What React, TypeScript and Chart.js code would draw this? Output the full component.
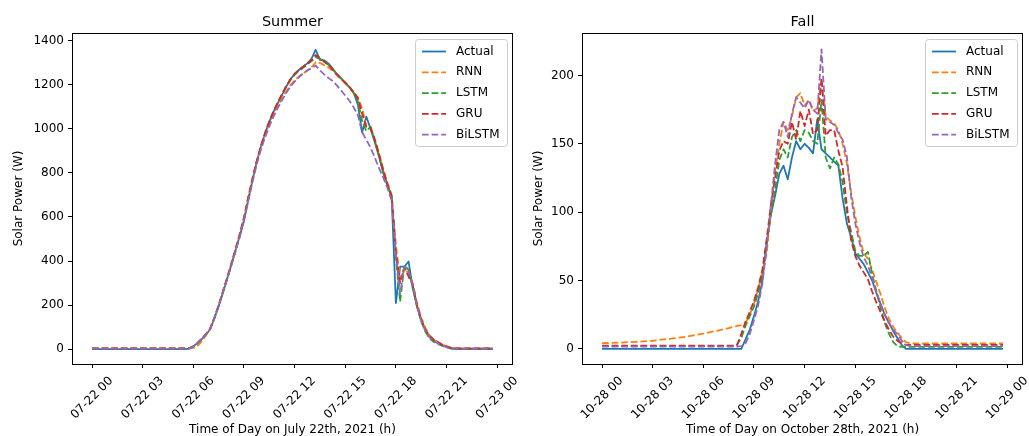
import React, { useEffect, useRef } from "react";
import { Chart, registerables } from "chart.js";

Chart.register(...registerables);

const FONT = "'DejaVu Sans', 'Liberation Sans', sans-serif";

// ---- series metadata ----
const seriesNames = ["Actual", "RNN", "LSTM", "GRU", "BiLSTM"];
const seriesColors = ["#1f77b4", "#ff7f0e", "#2ca02c", "#d62728", "#9467bd"];

// ---- axis ticks ----
const tickHours = [0, 3, 6, 9, 12, 15, 18, 21, 24];
const summerTickLabels = [
  "07-22 00", "07-22 03", "07-22 06", "07-22 09", "07-22 12",
  "07-22 15", "07-22 18", "07-22 21", "07-23 00",
];
const fallTickLabels = [
  "10-28 00", "10-28 03", "10-28 06", "10-28 09", "10-28 12",
  "10-28 15", "10-28 18", "10-28 21", "10-29 00",
];
const summerYTicks = [0, 200, 400, 600, 800, 1000, 1200, 1400];
const fallYTicks = [0, 50, 100, 150, 200];

// ---- Summer, July 22nd 2021 (hour of day, watts) ----
const summerHours = [
  0, 1, 2, 3, 4, 5,
  5.5, 5.75, 6, 6.25, 6.5, 6.75, 7, 7.25, 7.5, 7.75,
  8, 8.25, 8.5, 8.75, 9, 9.25, 9.5, 9.75,
  10, 10.25, 10.5, 10.75, 11, 11.25, 11.5, 11.75,
  12, 12.25, 12.5, 12.75, 13, 13.25, 13.5, 13.75,
  14, 14.25, 14.5, 14.75, 15, 15.25, 15.5, 15.75,
  16, 16.25, 16.5, 16.75, 17, 17.25, 17.5, 17.75,
  18, 18.25, 18.5, 18.75, 19, 19.25, 19.5, 19.75,
  20, 20.25, 20.5, 20.75, 21, 21.25, 21.5, 21.75,
  22, 23, 23.75,
];
const summerActual = [
  0, 0, 0, 0, 0, 0,
  0, 2, 12, 28, 45, 65, 90, 140, 195, 255,
  318, 382, 448, 515, 582, 675, 765, 848,
  918, 978, 1032, 1078, 1116, 1154, 1192, 1225,
  1250, 1268, 1283, 1298, 1318, 1360, 1314, 1312,
  1298, 1275, 1250, 1230, 1210, 1190, 1165, 1110,
  985, 1056, 1000, 940, 875, 800, 742, 690,
  209, 374, 374, 398, 275, 195, 132, 86,
  56, 40, 29, 18, 10, 3, 0, 0,
  0, 0, 0,
];
const summerRNN = [
  3, 3, 3, 3, 3, 3,
  3, 3, 5, 14, 35, 62, 92, 142, 200, 262,
  325, 390, 456, 525, 600, 690, 775, 852,
  918, 975, 1025, 1068, 1105, 1138, 1170, 1198,
  1220, 1238, 1252, 1265, 1280, 1303, 1300, 1290,
  1280, 1264, 1245, 1228, 1210, 1190, 1168, 1142,
  1095, 1012, 1010, 952, 888, 818, 755, 700,
  470, 320, 372, 340, 300, 210, 142, 95,
  62, 44, 32, 21, 13, 7, 4, 3,
  3, 3, 3,
];
const summerLSTM = [
  2, 2, 2, 2, 2, 2,
  2, 3, 10, 26, 46, 68, 92, 140, 196, 256,
  318, 382, 447, 515, 590, 680, 766, 848,
  918, 980, 1032, 1078, 1118, 1155, 1190, 1222,
  1246, 1264, 1278, 1292, 1308, 1325, 1320, 1305,
  1292, 1272, 1250, 1230, 1208, 1188, 1163, 1125,
  1035, 990, 1010, 945, 878, 805, 745, 692,
  420, 215, 380, 360, 285, 192, 125, 78,
  48, 32, 22, 14, 7, 3, 2, 2,
  2, 2, 2,
];
const summerGRU = [
  3, 3, 3, 3, 3, 3,
  3, 4, 12, 28, 47, 68, 93, 143, 198, 260,
  322, 386, 452, 520, 596, 686, 772, 852,
  922, 982, 1034, 1080, 1120, 1158, 1194, 1226,
  1250, 1268, 1283, 1297, 1312, 1336, 1322, 1306,
  1292, 1270, 1248, 1228, 1210, 1190, 1166, 1140,
  1070, 1010, 1005, 952, 885, 812, 750, 695,
  440, 300, 372, 330, 290, 200, 135, 88,
  58, 42, 30, 20, 12, 6, 3, 3,
  3, 3, 3,
];
const summerBiLSTM = [
  2, 2, 2, 2, 2, 2,
  2, 3, 11, 27, 46, 67, 92, 142, 198, 258,
  318, 380, 443, 510, 588, 672, 758, 838,
  905, 962, 1012, 1056, 1095, 1130, 1163, 1192,
  1215, 1235, 1252, 1266, 1276, 1288, 1266, 1248,
  1232, 1218, 1198, 1175, 1152, 1128, 1098, 1062,
  985, 950, 915, 870, 822, 780, 732, 675,
  430, 250, 375, 355, 290, 195, 128, 82,
  52, 36, 25, 16, 9, 4, 2, 2,
  2, 2, 2,
];

// ---- Fall, October 28th 2021 (hour of day, watts) ----
const fallHours = [
  0, 1, 2, 3, 4, 5, 6, 7,
  7.5, 7.75, 8, 8.25, 8.5, 8.75, 9, 9.25, 9.5, 9.75,
  10, 10.25, 10.5, 10.75, 11, 11.25, 11.5, 11.75,
  12, 12.25, 12.5, 12.75, 13, 13.25, 13.5, 13.75,
  14, 14.25, 14.5, 14.75, 15, 15.25, 15.5, 15.75,
  16, 16.25, 16.5, 16.75, 17, 17.25, 17.5, 17.75,
  18, 18.25, 18.5, 19, 20, 21, 22, 23, 23.75,
];
const fallActual = [
  0, 0, 0, 0, 0, 0, 0, 0,
  0, 0, 0, 0, 7, 14, 24, 35, 50, 78,
  98, 112, 128, 134, 124, 140, 152, 146,
  150, 147, 143, 168, 146, 143, 140, 137,
  134, 110, 92, 82, 70, 66, 62, 56,
  50, 41, 33, 25, 19, 13, 8, 3,
  0, 0, 0, 0, 0, 0, 0, 0, 0,
];
const fallRNN = [
  4.2, 4.6, 5.2, 6.0, 7.4, 9.0, 11.2, 13.8,
  15.2, 16.0, 16.8, 17.5, 19, 25, 33, 44, 56, 70,
  100, 130, 150, 166, 160, 170, 184, 187,
  178, 182, 174, 176, 195, 170, 167, 165,
  160, 150, 136, 115, 97, 82, 70, 66,
  58, 49, 40, 30, 22, 16, 12, 8,
  5, 4.2, 4.1, 4, 4, 4, 4, 4, 4,
];
const fallLSTM = [
  2, 2, 2, 2, 2, 2, 2, 2,
  2, 2, 3, 8, 17, 24, 31, 41, 54, 76,
  98, 116, 138, 146, 140, 155, 160, 152,
  160, 158, 152, 150, 182, 140, 132, 140,
  135, 122, 100, 86, 72, 68, 68, 71,
  55, 42, 30, 19, 11, 5, 2, 1.5,
  1.5, 1.5, 1.5, 1.5, 1.5, 1.5, 1.5, 1.5, 1.5,
];
const fallGRU = [
  2.4, 2.4, 2.4, 2.4, 2.4, 2.4, 2.4, 2.4,
  2.4, 2.5, 3, 11, 20, 27, 35, 45, 58, 80,
  105, 125, 145, 152, 150, 166, 153, 174,
  163, 175, 157, 160, 198, 156, 160, 160,
  145, 133, 105, 80, 68, 61, 56, 51,
  42, 34, 27, 20, 14, 9, 6, 4,
  3, 3, 3, 3, 3, 3, 3, 3, 3,
];
const fallBiLSTM = [
  1.7, 1.7, 1.7, 1.7, 1.7, 1.7, 1.7, 1.7,
  1.7, 1.7, 1.8, 2, 4, 11, 21, 32, 48, 74,
  105, 135, 160, 166, 155, 172, 184, 180,
  176, 182, 175, 172, 219, 168, 166, 164,
  158, 153, 141, 112, 92, 78, 67, 61,
  52, 42, 33, 25, 19, 14, 11, 6,
  3, 2, 2, 2, 2, 2, 2, 2, 2,
];

type PanelProps = {
  title: string;
  xTitle: string;
  hours: number[];
  series: number[][];
  tickLabels: string[];
  yTicks: number[];
  yMin: number;
  yMax: number;
  left: number;
  width: number;
  axisWidth: number;
  padRight: number;
};

const DASH = [6.7, 2.9];

function Panel(props: PanelProps) {
  const ref = useRef<HTMLCanvasElement | null>(null);

  useEffect(() => {
    const canvas = ref.current;
    if (!canvas) return;

    const datasets = props.series.map((vals, i) => ({
      label: seriesNames[i],
      data: vals.map((v, j) => ({ x: props.hours[j], y: v })),
      borderColor: seriesColors[i],
      backgroundColor: seriesColors[i],
      borderWidth: 1.8,
      borderDash: i === 0 ? [] : DASH,
      borderJoinStyle: "round" as const,
      pointRadius: 0,
      fill: false,
      tension: 0,
      order: seriesNames.length - 1 - i,
    }));

    const decor = {
      id: "decor",
      afterDraw(chart: any) {
        const { ctx, chartArea: a } = chart;
        ctx.save();

        // axes frame
        ctx.strokeStyle = "#000";
        ctx.lineWidth = 1;
        ctx.setLineDash([]);
        ctx.strokeRect(a.left + 0.5, a.top + 0.5, a.right - a.left - 1, a.bottom - a.top);

        // panel title
        ctx.fillStyle = "#000";
        ctx.font = `14.4px ${FONT}`;
        ctx.textAlign = "center";
        ctx.textBaseline = "alphabetic";
        ctx.fillText(props.title, (a.left + a.right) / 2, a.top - 7);

        // rotated date/hour tick labels
        const xs = chart.scales.x;
        ctx.font = `12px ${FONT}`;
        ctx.textBaseline = "middle";
        tickHours.forEach((h, i) => {
          const px = xs.getPixelForValue(h);
          ctx.save();
          ctx.translate(px, a.bottom + 34);
          ctx.rotate(-Math.PI / 4);
          ctx.fillText(props.tickLabels[i], 0, 0);
          ctx.restore();
        });

        // legend box in the upper right corner
        const w = 92;
        const hgt = 107;
        const x0 = a.right - 6 - w;
        const y0 = a.top + 6;
        ctx.beginPath();
        ctx.roundRect(x0 + 0.5, y0 + 0.5, w, hgt, 3);
        ctx.fillStyle = "rgba(255,255,255,0.8)";
        ctx.fill();
        ctx.strokeStyle = "#cccccc";
        ctx.lineWidth = 1;
        ctx.stroke();

        ctx.textAlign = "left";
        ctx.textBaseline = "middle";
        seriesNames.forEach((name, i) => {
          const yy = y0 + 12.5 + i * 20.8;
          ctx.beginPath();
          ctx.setLineDash(i === 0 ? [] : DASH);
          ctx.strokeStyle = seriesColors[i];
          ctx.lineWidth = 1.8;
          ctx.moveTo(x0 + 7, yy);
          ctx.lineTo(x0 + 31, yy);
          ctx.stroke();
          ctx.setLineDash([]);
          ctx.fillStyle = "#000";
          ctx.fillText(name, x0 + 41, yy);
        });

        ctx.restore();
      },
    };

    const tickGrid = {
      display: true,
      drawOnChartArea: false,
      drawTicks: true,
      tickLength: 4,
      color: "#000",
      lineWidth: 1,
    };

    const chart = new Chart(canvas, {
      type: "line",
      data: { datasets: datasets as any },
      options: {
        responsive: false,
        maintainAspectRatio: false,
        animation: false,
        devicePixelRatio: 1,
        events: [],
        layout: { padding: { left: 0, top: 33, right: props.padRight, bottom: 0 } },
        plugins: {
          legend: { display: false },
          tooltip: { enabled: false },
          title: { display: false },
        },
        scales: {
          x: {
            type: "linear",
            min: -1.1875,
            max: 24.9375,
            afterBuildTicks: (s: any) => {
              s.ticks = tickHours.map((v) => ({ value: v }));
            },
            afterFit: (s: any) => {
              s.height = 72;
            },
            ticks: { display: false, autoSkip: false },
            grid: tickGrid,
            border: { display: false },
            title: {
              display: true,
              text: props.xTitle,
              color: "#000",
              font: { family: FONT, size: 12, lineHeight: 1 },
              padding: { top: 0, bottom: 0 },
            },
          },
          y: {
            type: "linear",
            min: props.yMin,
            max: props.yMax,
            afterBuildTicks: (s: any) => {
              s.ticks = props.yTicks.map((v) => ({ value: v }));
            },
            afterFit: (s: any) => {
              s.width = props.axisWidth;
            },
            ticks: {
              autoSkip: false,
              color: "#000",
              padding: 4,
              font: { family: FONT, size: 12 },
              callback: (v: any) => String(v),
            },
            grid: tickGrid,
            border: { display: false },
            title: {
              display: true,
              text: "Solar Power (W)",
              color: "#000",
              font: { family: FONT, size: 12, lineHeight: 1 },
              padding: { top: 13, bottom: 0 },
            },
          },
        },
      },
      plugins: [decor],
    } as any);

    return () => chart.destroy();
  }, []);

  return (
    <canvas
      ref={ref}
      width={props.width}
      height={436}
      style={{ position: "absolute", left: props.left, top: 0, width: props.width, height: 436 }}
    />
  );
}

export default function App() {
  return (
    <div
      style={{
        position: "fixed",
        left: 0,
        top: 0,
        width: 1029,
        height: 436,
        background: "#fff",
        overflow: "hidden",
      }}
    >
      <Panel
        title="Summer"
        xTitle="Time of Day on July 22th, 2021 (h)"
        hours={summerHours}
        series={[summerActual, summerRNN, summerLSTM, summerGRU, summerBiLSTM]}
        tickLabels={summerTickLabels}
        yTicks={summerYTicks}
        yMin={-68}
        yMax={1436}
        left={0}
        width={520}
        axisWidth={72}
        padRight={7}
      />
      <Panel
        title="Fall"
        xTitle="Time of Day on October 28th, 2021 (h)"
        hours={fallHours}
        series={[fallActual, fallRNN, fallLSTM, fallGRU, fallBiLSTM]}
        tickLabels={fallTickLabels}
        yTicks={fallYTicks}
        yMin={-11}
        yMax={231}
        left={520}
        width={509}
        axisWidth={62}
        padRight={6}
      />
    </div>
  );
}
